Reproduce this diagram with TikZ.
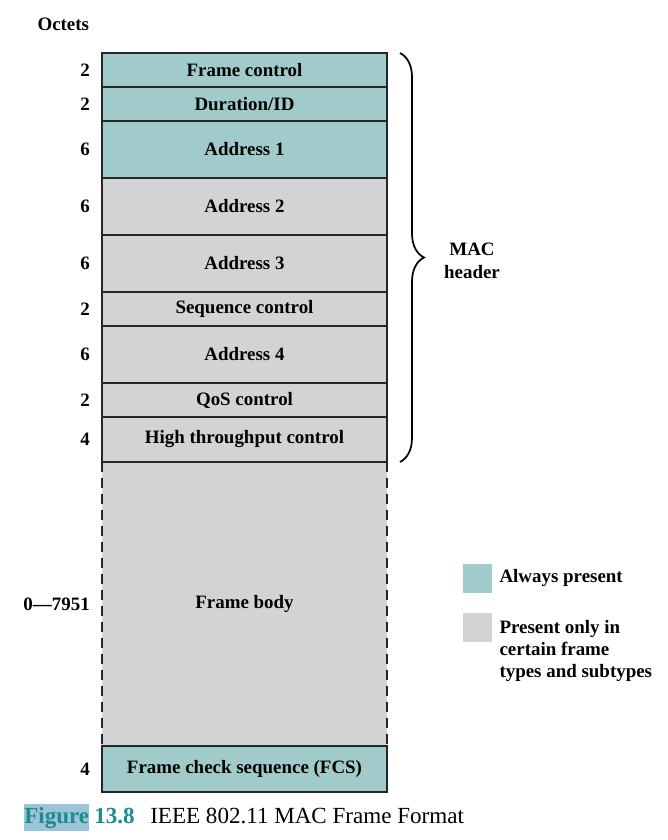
\documentclass[tikz,border=0pt]{standalone}
\usepackage{fontspec}
\setmainfont{Liberation Serif}
\usetikzlibrary{positioning,decorations.pathreplacing,backgrounds}

\definecolor{alwaysteal}{HTML}{A1CBCB}
\definecolor{optgray}{HTML}{D1D3D4}
\definecolor{figteal}{HTML}{1C8C8F}
\definecolor{figmark}{HTML}{9CC4D6}

\tikzset{
	field/.style={draw=black!85, line width=1.2pt, minimum width=213.75pt, inner sep=0pt, outer sep=0pt, font=\fontsize{14.2}{16}\selectfont\bfseries},
	always/.style={field, fill=alwaysteal},
	optional/.style={field, fill=optgray},
	octets/.style={font=\fontsize{14.2}{16}\selectfont\bfseries, inner sep=2pt},
	keybox/.style={minimum size=21.75pt, inner sep=0pt},
	keytext/.style={font=\fontsize{14.2}{16.5}\selectfont\bfseries, align=left, inner sep=0pt},
	caption/.style={font=\fontsize{17.3}{20}\selectfont, inner sep=0pt}
}

\begin{document}
\begin{tikzpicture}[x=0.75pt, y=-0.75pt]
	\useasboundingbox (0,0) rectangle (668,840);
	% Fields
	\node[always, minimum height=25.5pt] (fc) at (244.5,70) {Frame control};
	\node[always, minimum height=25.5pt] (dur) [below=0pt of fc] {Duration/ID};
	\node[always, minimum height=42.75pt] (a1) [below=0pt of dur] {Address 1};
	\node[optional, minimum height=42.75pt] (a2) [below=0pt of a1] {Address 2};
	\node[optional, minimum height=42.75pt] (a3) [below=0pt of a2] {Address 3};
	\node[optional, minimum height=25.5pt] (seq) [below=0pt of a3] {Sequence control};
	\node[optional, minimum height=42.75pt] (a4) [below=0pt of seq] {Address 4};
	\node[optional, minimum height=25.5pt] (qos) [below=0pt of a4] {QoS control};
	\node[optional, minimum height=33.75pt] (ht) [below=0pt of qos] {High throughput control};
	\begin{pgfonlayer}{background}
		\node[field, draw=none, fill=optgray, minimum height=213pt] (body) [below=0pt of ht] {Frame body};
	\end{pgfonlayer}
	\draw[line width=1.2pt, black!85, dash pattern=on 7.5pt off 4.5pt] (body.north west) -- (body.south west);
	\draw[line width=1.2pt, black!85, dash pattern=on 7.5pt off 4.5pt] (body.north east) -- (body.south east);
	\node[always, minimum height=34.5pt] (fcs) [below=0pt of body] {Frame check sequence (FCS)};

	% Octets
	\node[octets, anchor=east] (octhead) at (92,24) {Octets};
	\foreach \f/\n in {fc/2, dur/2, a1/6, a2/6, a3/6, seq/2, a4/6, qos/2, ht/4, body/0—7951, fcs/4}
		\node[octets, left=7pt of \f] (oct-\f) {\n};

	% Brace
	\coordinate[right=9.75pt of fc.north east] (bracetop);
	\coordinate[right=9.75pt of ht.south east] (bracebot);
	\draw[decorate, decoration={brace, amplitude=18pt}, line width=1.3pt] (bracetop) -- (bracebot);
	\node[keytext, align=center, font=\fontsize{14.2}{17}\selectfont\bfseries] (machdr) at (472,261) {MAC\\header};

	% Key
	\node[keybox, fill=alwaysteal] (keyA) at (477.5,578) {};
	\node[keytext] (keyAtext) [right=5.25pt of keyA] {Always present};
	\node[keybox, fill=optgray] (keyB) at (477.5,627) {};
	\node[keytext, anchor=north west] (keyBtext) [right=5.25pt of keyB.north east, anchor=north west, yshift=-6pt] {Present only in\\certain frame\\types and subtypes};

	% Caption
	\node[caption, anchor=base west, fill=figmark, text=figteal, inner ysep=2pt, font=\fontsize{17.3}{20}\selectfont\bfseries] (figword) at (24,823) {Figure};
	\node[caption, anchor=base west, text=figteal, font=\fontsize{17.3}{20}\selectfont\bfseries] (fignum) at ([xshift=3.5pt]figword.base east) {13.8};
	\node[caption, anchor=base west] (figtitle) at (150,823) {IEEE 802.11 MAC Frame Format};
\end{tikzpicture}
\end{document}
